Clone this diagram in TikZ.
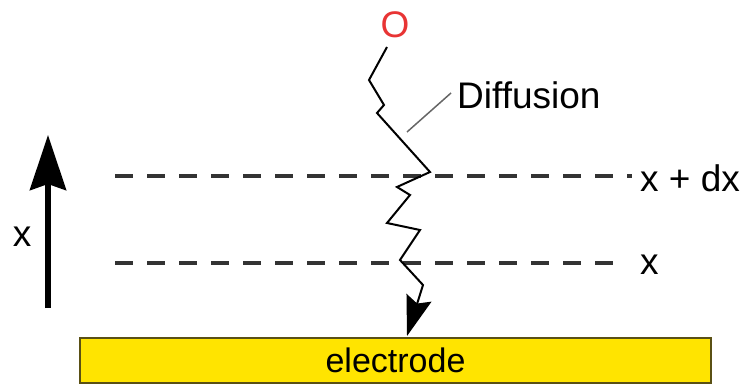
\documentclass[tikz,border=0pt]{standalone}
\usepackage{fontspec}
\setmainfont{Liberation Sans}
\usetikzlibrary{arrows.meta}
\definecolor{elyellow}{RGB}{255,228,0}
\definecolor{eledge}{RGB}{90,80,20}
\definecolor{ored}{RGB}{232,52,52}
\begin{document}
\begin{tikzpicture}[x=1pt,y=-1pt,
  lbl/.style={font=\fontsize{37}{42}\selectfont, inner sep=0pt},
  dashline/.style={line width=3.5pt, dash pattern=on 18pt off 14pt, color=black!80},
  zig/.style={line width=2pt, line join=miter}]
\useasboundingbox (0,0) rectangle (743,385);
% electrode
\node[draw=eledge, fill=elyellow, line width=2pt, minimum width=631pt, minimum height=45pt, inner sep=0pt, font=\fontsize{34}{40}\selectfont] (el) at (395.5,360.5) {electrode};
% axis arrow
\coordinate (ab) at (48,308);
\coordinate (at) at (48,135);
\draw[line width=6pt, -{Stealth[length=55pt,width=36pt,inset=6pt]}] (ab) -- (at);
\node[lbl] (xl) at (22,237) {x};
% dashed lines
\coordinate (d1a) at (115,176); \coordinate (d1b) at (632,176);
\coordinate (d2a) at (115,263); \coordinate (d2b) at (627,263);
\draw[dashline] (d1a) -- (d1b);
\draw[dashline] (d2a) -- (d2b);
\node[lbl, anchor=west] (xdx) at (640,178) {x + dx};
\node[lbl, anchor=west] (xx) at (640,265) {x};
% O
\node[lbl, text=ored] (O) at (395,25) {O};
% zigzag
\coordinate (e) at (407,336);
\draw[zig, -{Stealth[length=40pt,width=26pt,inset=6pt]}] (387,47) -- (369,80) -- (384,105) -- (377,113) -- (430,172) -- (397,187) -- (410,195) -- (387,223) -- (420,230) -- (400,260) -- (423,285) -- (e);
% diffusion label
\node[lbl, anchor=west] (dif) at (457,95) {Diffusion};
\coordinate (lp) at (407,132);
\draw[line width=1.5pt, black!60] (lp) -- ([xshift=-6pt,yshift=2pt]dif.west);
\end{tikzpicture}
\end{document}
